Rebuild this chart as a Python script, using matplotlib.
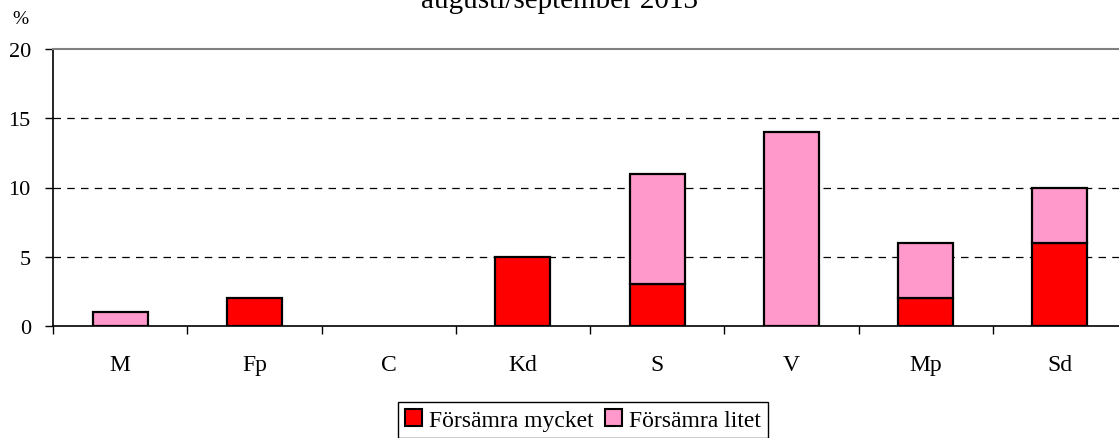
import numpy as np
import matplotlib.pyplot as plt
from matplotlib.patches import Patch

plt.rcParams['font.family'] = ['Liberation Serif', 'DejaVu Serif']

categories = ['M', 'Fp', 'C', 'Kd', 'S', 'V', 'Mp', 'Sd']
mycket = [0, 2, 0, 5, 3, 0, 2, 6]
litet = [1, 0, 0, 0, 8, 14, 4, 4]
labels = ['Försämra mycket', 'Försämra litet']
colors = ['#ff0000', '#ff99cc']

fig = plt.figure(figsize=(11.19, 4.39), dpi=100)
# plot area runs a little past the right edge of the picture
ax = fig.add_axes([53/1119, 1 - 327/439, (1127 - 53)/1119, (327 - 50)/439])

x = np.arange(len(categories))
w = 0.41
m = np.array(mycket, dtype=float)
l = np.array(litet, dtype=float)
# zero-height segments are not drawn
ax.bar(x, np.where(m > 0, m, np.nan), w, color=colors[0], edgecolor='black', linewidth=1.6, zorder=3)
ax.bar(x, np.where(l > 0, l, np.nan), w, bottom=m, color=colors[1], edgecolor='black', linewidth=1.6, zorder=3)

ax.set_xlim(-0.5, len(categories) - 0.5)
ax.set_ylim(0, 20)
ax.set_yticks([0, 5, 10, 15, 20])
ax.set_yticklabels(['0', '5', '10', '15', '20'], fontsize=16)
for yv in [5, 10, 15]:
    ax.axhline(yv, color='black', linestyle=(0, (6, 5)), linewidth=0.9, zorder=1)

ax.set_xticks(x)
ax.set_xticklabels(categories, fontsize=17)
ax.tick_params(axis='x', length=0, pad=20)
ax.set_xticks(np.arange(-0.5, len(categories)), minor=True)
ax.tick_params(axis='x', which='minor', length=6, direction='out', width=1)
ax.tick_params(axis='y', length=6, direction='out', width=1, pad=10)

ax.spines['right'].set_visible(False)
ax.spines['top'].set_color('gray')
ax.spines['top'].set_linewidth(1.5)
ax.spines['left'].set_linewidth(1.2)
ax.spines['bottom'].set_linewidth(1.2)

fig.text(0.5, 1 - 8/439, 'augusti/september 2013', ha='center', va='baseline', fontsize=21)
fig.text(20/1119, 1 - 20/439, '%', ha='center', va='center', fontsize=14)

handles = [Patch(facecolor=c, edgecolor='black', linewidth=1.5, label=t) for c, t in zip(colors, labels)]
fig.legend(handles=handles, loc='upper center', bbox_to_anchor=(583/1119, 1 - 403/439), ncol=2,
           fontsize=17, frameon=True, fancybox=False, edgecolor='black', framealpha=1,
           handlelength=0.7, handleheight=0.7, handletextpad=0.3, columnspacing=0.5,
           borderpad=0.3, borderaxespad=0)

fig.savefig('out.png', dpi=100)
